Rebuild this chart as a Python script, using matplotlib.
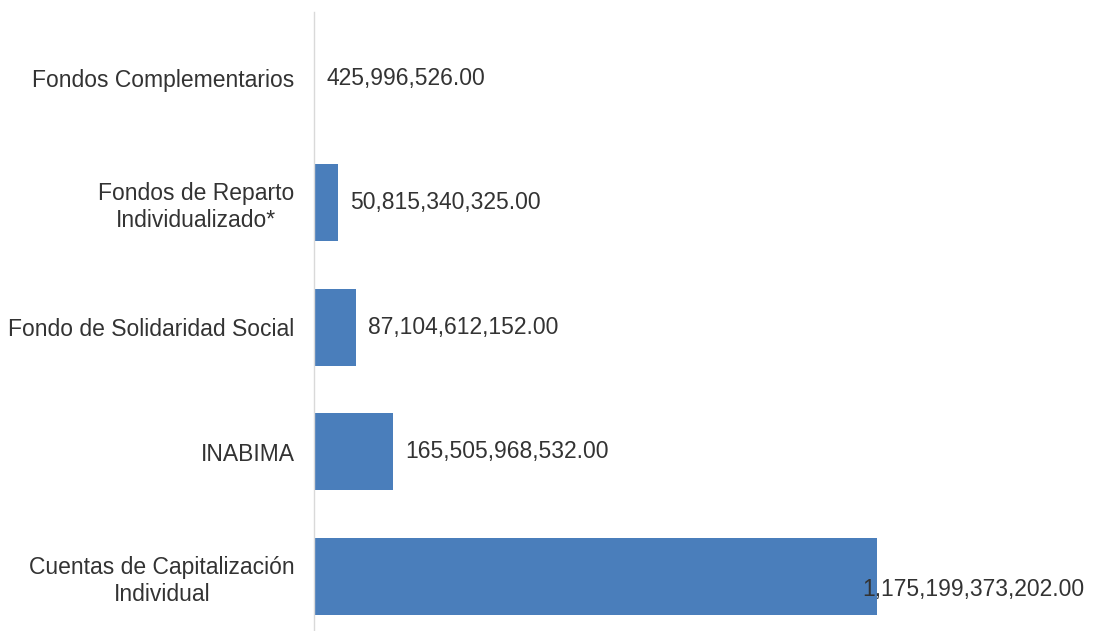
import matplotlib
matplotlib.use("Agg")
import matplotlib.pyplot as plt

categories = ["Cuentas de Capitalización\nIndividual", "INABIMA", "Fondo de Solidaridad Social",
              "Fondos de Reparto\nIndividualizado*", "Fondos Complementarios"]
values = [1175199373202.00, 165505968532.00, 87104612152.00, 50815340325.00, 425996526.00]
value_labels = ["1,175,199,373,202.00", "165,505,968,532.00", "87,104,612,152.00",
                "50,815,340,325.00", "425,996,526.00"]

plt.rcParams['font.family'] = ['Liberation Sans', 'DejaVu Sans']
W, H = 1102, 631
fig = plt.figure(figsize=(W/100, H/100), dpi=100)
ax = fig.add_axes([314/W, 1-630/H, (W-314)/W, (630-12)/H])

bar_color = "#4a7ebb"
text_color = "#333333"
ypos = list(range(len(categories)))
ax.barh(ypos, values, height=0.62, color=bar_color)

px_per_val = (877-314)/values[0]
ax.set_xlim(0, (W-314)/px_per_val)
ax.set_ylim(-0.43, 4.53)

fs = 16.5
for i, (v, lab) in enumerate(zip(values, value_labels)):
    if i == 0:
        ax.annotate(lab, xy=(v, i), xytext=(-15, -13), textcoords="offset pixels",
                    ha="left", va="center", fontsize=fs, color=text_color)
    else:
        ax.annotate(lab, xy=(v, i), xytext=(12, 0), textcoords="offset pixels",
                    ha="left", va="center", fontsize=fs, color=text_color)

ax.set_yticks(ypos)
ax.set_yticklabels(categories, fontsize=fs, color=text_color)
for t in ax.get_yticklabels():
    t.set_multialignment("center")
ax.tick_params(axis="y", length=0, pad=14)
ax.set_xticks([])
for s in ["top", "right", "bottom"]:
    ax.spines[s].set_visible(False)
ax.spines["left"].set_color("#d9d9d9")
ax.spines["left"].set_linewidth(1)

fig.savefig("out.png", dpi=100, facecolor="white")
